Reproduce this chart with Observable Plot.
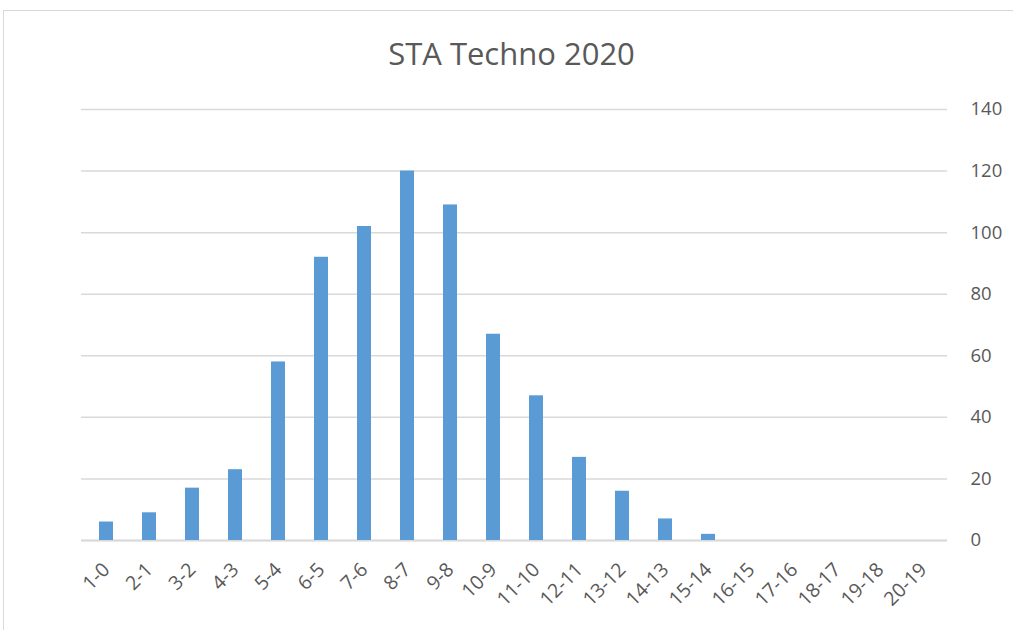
<!DOCTYPE html>
<html>
<head>
<meta charset="utf-8">
<script src="https://cdn.jsdelivr.net/npm/d3@7"></script>
<script src="https://cdn.jsdelivr.net/npm/@observablehq/plot@0.6"></script>
<style>
  body { margin: 0; background: #fff; font-family: "Open Sans", sans-serif; }
  #frame { position: absolute; left: 3px; top: 10px; width: 1030px; height: 650px; border: 1px solid #d9d9d9; box-sizing: border-box; }
  #wrap { position: absolute; left: 0; top: 0; width: 1013px; }
  #title { height: 63px; padding-top: 38px; padding-left: 10px; line-height: 31px; text-align: center; font-size: 31px; color: #595959; font-family: "Open Sans", sans-serif; white-space: nowrap; }
  #chart svg { overflow: visible; }
</style>
</head>
<body>
<div id="frame"></div>
<div id="wrap">
  <div id="title">STA Techno 2020</div>
  <div id="chart"></div>
</div>
<script>
const categories = ["1-0","2-1","3-2","4-3","5-4","6-5","7-6","8-7","9-8","10-9","11-10","12-11","13-12","14-13","15-14","16-15","17-16","18-17","19-18","20-19"];
const values = [6, 9, 17, 23, 58, 92, 102, 120, 109, 67, 47, 27, 16, 7, 2, 0, 0, 0, 0, 0];
const yTicks = [0, 20, 40, 60, 80, 100, 120, 140];

const data = categories.map((c, i) => ({cat: c, val: values[i]}));

const chart = Plot.plot({
  width: 1013,
  height: 529,
  marginLeft: 81,
  marginRight: 66,
  marginTop: 8,
  marginBottom: 90,
  style: { fontFamily: "Open Sans, sans-serif", fontSize: "18px", color: "#595959", background: "transparent", overflow: "visible" },
  x: { domain: categories, paddingInner: 0.68, paddingOuter: 0.34, label: null },
  y: { domain: [0, 140], label: null },
  marks: [
    Plot.gridY(yTicks, { stroke: "#d9d9d9", strokeOpacity: 1, strokeWidth: 1.5 }),
    Plot.ruleY([0], { stroke: "#d9d9d9", strokeWidth: 2 }),
    Plot.barY(data, { x: "cat", y: "val", fill: "#5b9bd5" }),
    Plot.axisY(yTicks, { anchor: "right", tickSize: 0, tickPadding: 23, textAnchor: "start", fill: "#595959", fontSize: 18.5, label: null }),
    Plot.axisX({ anchor: "bottom", tickSize: 0, tickPadding: 26, tickRotate: -45, fill: "#595959", fontSize: 19.5, label: null })
  ]
});
document.getElementById("chart").appendChild(chart);
</script>
</body>
</html>
